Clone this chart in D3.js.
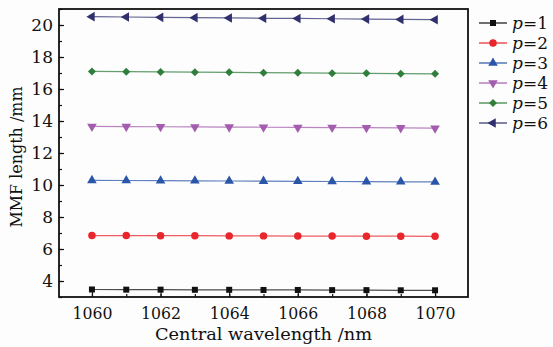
<!DOCTYPE html>
<html>
<head>
<meta charset="utf-8">
<script src="https://cdn.jsdelivr.net/npm/d3@7"></script>
<style>
  body { margin: 0; background: #fdfdfd; }
  svg { display: block; }
  text { font-family: "DejaVu Serif", serif; fill: #111; }
</style>
</head>
<body>
<svg id="chart" width="553" height="347"></svg>
<script>
// wavelength (nm)
const wavelengths = [1060, 1061, 1062, 1063, 1064, 1065, 1066, 1067, 1068, 1069, 1070];
// MMF length (mm) for each p
const p1 = [3.47, 3.46, 3.46, 3.45, 3.45, 3.44, 3.44, 3.43, 3.43, 3.42, 3.42];
const p2 = [6.84, 6.84, 6.83, 6.83, 6.82, 6.82, 6.81, 6.81, 6.80, 6.80, 6.79];
const p3 = [10.29, 10.28, 10.27, 10.26, 10.25, 10.24, 10.23, 10.22, 10.21, 10.20, 10.19];
const p4 = [13.66, 13.65, 13.64, 13.63, 13.62, 13.61, 13.60, 13.59, 13.58, 13.57, 13.55];
const p5 = [17.10, 17.08, 17.07, 17.05, 17.04, 17.02, 17.01, 16.99, 16.98, 16.96, 16.95];
const p6 = [20.52, 20.50, 20.48, 20.46, 20.44, 20.42, 20.41, 20.39, 20.37, 20.35, 20.33];
const seriesNames = ['p=1', 'p=2', 'p=3', 'p=4', 'p=5', 'p=6'];
const seriesValues = [p1, p2, p3, p4, p5, p6];
const colors = ['#111111', '#e8262b', '#2a55a8', '#a45cae', '#2f7e3c', '#30306e'];
const xTicks = [1060, 1062, 1064, 1066, 1068, 1070];
const yTicks = [4, 6, 8, 10, 12, 14, 16, 18, 20];

let svg = d3.select('#chart');
let margin = {left: 59, top: 9, right: 85, bottom: 50};
let width = 553 - margin.left - margin.right;
let height = 347 - margin.top - margin.bottom;

let x = d3.scaleLinear().domain([1059.04, 1070.96]).range([0, width]);
let y = d3.scaleLinear().domain([3, 21]).range([height, 0]);

let g = svg.append('g').attr('transform', `translate(${margin.left},${margin.top})`);

// marker shape + rotation for each series
const markers = [
    {type: d3.symbolSquare, size: 36, rot: 0},
    {type: d3.symbolCircle, size: 44, rot: 0},
    {type: d3.symbolTriangle, size: 40, rot: 0},
    {type: d3.symbolTriangle, size: 40, rot: 180},
    {type: d3.symbolSquare, size: 32, rot: 45},
    {type: d3.symbolTriangle, size: 40, rot: -90}
];
function marker(sel, i, cx, cy) {
    let m = markers[i];
    return sel.append('path')
        .attr('fill', colors[i])
        .attr('d', d3.symbol(m.type, m.size)())
        .attr('transform', `translate(${cx},${cy}) rotate(${m.rot})`);
}

// axes: ticks pointing into the plot
let xMinor = d3.range(1060, 1071, 1);
let yMinor = d3.range(3, 22, 1);

g.append('g')
    .attr('transform', `translate(0,${height})`)
    .call(d3.axisBottom(x).tickValues(xMinor).tickSize(-3).tickFormat(''))
    .call(a => a.select('.domain').remove());
g.append('g')
    .attr('transform', `translate(0,${height})`)
    .call(d3.axisBottom(x).tickValues(xTicks).tickSize(-5).tickPadding(10).tickFormat(d3.format('d')))
    .call(a => a.select('.domain').remove())
    .selectAll('text').style('font-size', '17px').attr('textLength', 40).attr('lengthAdjust', 'spacingAndGlyphs');

g.append('g')
    .call(d3.axisLeft(y).tickValues(yMinor).tickSize(-3).tickFormat(''))
    .call(a => a.select('.domain').remove());
g.append('g')
    .call(d3.axisLeft(y).tickValues(yTicks).tickSize(-5).tickPadding(6))
    .call(a => a.select('.domain').remove())
    .selectAll('text').style('font-size', '17px');

g.selectAll('.tick line').attr('stroke', '#111').attr('stroke-width', 1.2);

// frame
g.append('rect')
    .attr('width', width).attr('height', height)
    .attr('fill', 'none').attr('stroke', '#111').attr('stroke-width', 1.8);

// series
let line = d3.line().x((d, j) => x(wavelengths[j])).y(d => y(d));
seriesValues.forEach((vals, i) => {
    g.append('path')
        .datum(vals)
        .attr('d', line)
        .attr('fill', 'none')
        .attr('stroke', colors[i])
        .attr('stroke-opacity', 0.75)
        .attr('stroke-width', 1.2);
    vals.forEach((v, j) => marker(g, i, x(wavelengths[j]), y(v)));
});

// axis titles
svg.append('text')
    .attr('x', margin.left + width / 2)
    .attr('y', 340)
    .attr('text-anchor', 'middle')
    .attr('textLength', 217)
    .attr('lengthAdjust', 'spacingAndGlyphs')
    .style('font-size', '17px')
    .text('Central wavelength /nm');
svg.append('text')
    .attr('transform', 'translate(22,157) rotate(-90)')
    .attr('text-anchor', 'middle')
    .attr('textLength', 141)
    .attr('lengthAdjust', 'spacingAndGlyphs')
    .style('font-size', '17px')
    .text('MMF length /mm');

// legend
let legend = svg.append('g').attr('transform', 'translate(479,23)');
seriesNames.forEach((name, i) => {
    let row = legend.append('g').attr('transform', `translate(0,${i * 20})`);
    row.append('line').attr('x1', 0).attr('x2', 28)
        .attr('stroke', colors[i]).attr('stroke-width', 1.2);
    marker(row, i, 14, 0);
    let t = row.append('text').attr('x', 33).attr('y', 6).style('font-size', '17px');
    t.append('tspan').style('font-style', 'italic').text('p');
    t.append('tspan').text(name.slice(1));
});
</script>
</body>
</html>
